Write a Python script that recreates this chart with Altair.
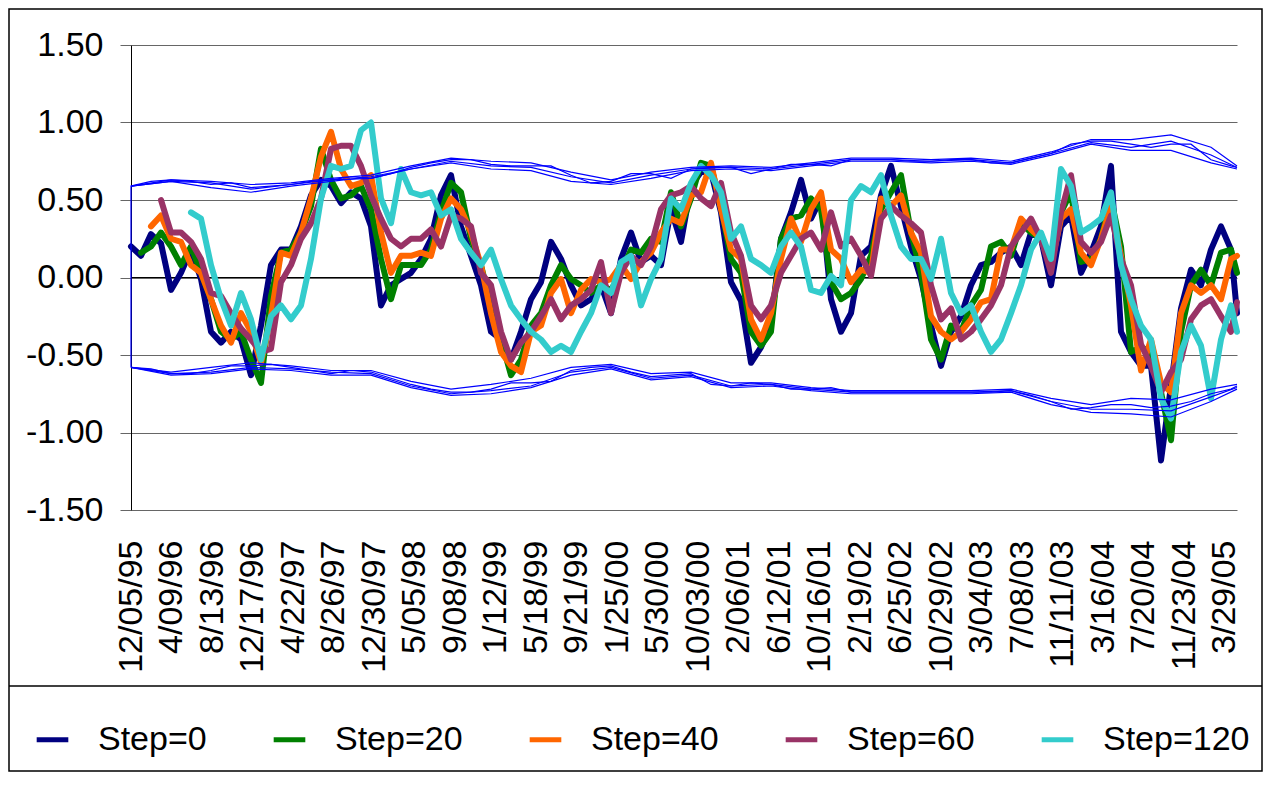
import datetime as dt
import pandas as pd
import altair as alt

SERIES = ["Step=0", "Step=20", "Step=40", "Step=60", "Step=120"]
COLORS = ["#000080", "#008000", "#FF6600", "#993366", "#33CCCC"]

TICK_LABELS = ["12/05/95", "4/09/96", "8/13/96", "12/17/96", "4/22/97", "8/26/97",
               "12/30/97", "5/05/98", "9/08/98", "1/12/99", "5/18/99", "9/21/99",
               "1/25/00", "5/30/00", "10/03/00", "2/06/01", "6/12/01", "10/16/01",
               "2/19/02", "6/25/02", "10/29/02", "3/04/03", "7/08/03", "11/11/03",
               "3/16/04", "7/20/04", "11/23/04", "3/29/05"]
Y_TICKS = [-1.5, -1.0, -0.5, 0.0, 0.5, 1.0, 1.5]

START = dt.datetime(1995, 12, 5)
END = dt.datetime(2005, 5, 6)
N_SAMPLES = 111  # roughly monthly samples, last value is at END

N = None
step0 = [0.20, 0.14, 0.28, 0.22, -0.08, 0.03, 0.18, -0.01, -0.35, -0.42,
         -0.35, -0.40, -0.63, -0.31, 0.08, 0.18, 0.18, 0.33, 0.53, 0.63,
         0.59, 0.48, 0.55, 0.51, 0.33, -0.18, -0.05, -0.01, 0.03, 0.12,
         0.25, 0.53, 0.66, 0.33, 0.14, -0.05, -0.35, -0.40, -0.53, -0.35,
         -0.14, -0.03, 0.23, 0.12, -0.05, -0.18, -0.14, -0.05, -0.23, 0.12,
         0.29, 0.10, 0.14, 0.08, 0.44, 0.23, 0.59, 0.68, 0.68, 0.42,
         -0.03, -0.15, -0.55, -0.45, -0.30, 0.25, 0.42, 0.63, 0.38, 0.51,
         -0.14, -0.35, -0.23, 0.14, 0.20, 0.53, 0.72, 0.46, 0.20, -0.01,
         -0.31, -0.57, -0.35, -0.25, -0.05, 0.08, 0.10, 0.16, 0.20, 0.08,
         0.29, 0.25, -0.05, 0.33, 0.40, 0.03, 0.16, 0.33, 0.72, -0.35,
         -0.48, -0.57, -0.57, -1.18, -0.70, -0.20, 0.05, -0.05, 0.18, 0.33, 0.18,
         -0.23]
step20 = [N, 0.16, 0.20, 0.29, 0.20, 0.08, 0.20, 0.03, -0.14, -0.35,
          -0.40, -0.35, -0.53, -0.68, -0.12, 0.16, 0.18, 0.29, 0.46, 0.83,
          0.63, 0.51, 0.53, 0.59, 0.44, 0.12, -0.14, 0.08, 0.08, 0.08,
          0.18, 0.42, 0.61, 0.55, 0.25, 0.08, -0.18, -0.40, -0.63, -0.53,
          -0.31, -0.23, -0.05, 0.08, -0.01, -0.05, -0.10, -0.05, -0.08, 0.03,
          0.18, 0.16, 0.25, 0.23, 0.55, 0.33, 0.51, 0.74, 0.72, 0.46,
          0.12, 0.03, -0.35, -0.44, -0.35, 0.25, 0.38, 0.40, 0.51, 0.44,
          -0.03, -0.14, -0.10, -0.01, 0.14, 0.44, 0.55, 0.66, 0.29, 0.03,
          -0.40, -0.53, -0.31, -0.35, -0.18, -0.08, 0.20, 0.23, 0.14, 0.35,
          0.29, 0.25, 0.08, 0.42, 0.55, 0.10, 0.12, 0.25, 0.51, 0.20,
          -0.48, -0.45, -0.48, -0.74, -1.05, -0.35, -0.05, 0.05, -0.05, 0.16, 0.18,
          0.03]
step40 = [N, N, 0.33, 0.40, 0.25, 0.23, 0.08, 0.03, -0.14, -0.31,
          -0.42, -0.23, -0.35, -0.55, -0.25, 0.16, 0.14, 0.29, 0.51, 0.78,
          0.94, 0.70, 0.59, 0.61, 0.66, 0.29, 0.03, 0.14, 0.14, 0.16,
          0.14, 0.38, 0.51, 0.44, 0.29, 0.08, -0.23, -0.48, -0.57, -0.61,
          -0.35, -0.31, -0.10, -0.01, -0.23, -0.08, -0.01, -0.03, -0.01, 0.08,
          -0.01, 0.10, 0.16, 0.29, 0.38, 0.35, 0.53, 0.55, 0.74, 0.44,
          0.18, 0.12, -0.27, -0.40, -0.23, 0.12, 0.38, 0.23, 0.44, 0.55,
          0.18, 0.12, -0.03, 0.05, 0.03, 0.51, 0.46, 0.53, 0.29, 0.16,
          -0.25, -0.35, -0.40, -0.35, -0.27, -0.16, -0.14, 0.18, 0.18, 0.38,
          0.31, 0.25, 0.08, 0.38, 0.44, 0.16, 0.08, 0.25, 0.46, 0.14,
          -0.18, -0.60, -0.40, -0.68, -0.74, -0.23, -0.05, -0.10, -0.05, -0.14, 0.12,
          0.14]
step60 = [N, N, N, 0.50, 0.29, 0.29, 0.23, 0.12, -0.10, -0.12,
          -0.23, -0.33, -0.40, -0.48, -0.46, -0.03, 0.08, 0.25, 0.35, 0.51,
          0.83, 0.85, 0.85, 0.72, 0.53, 0.38, 0.25, 0.20, 0.25, 0.25,
          0.31, 0.20, 0.40, 0.38, 0.33, 0.03, -0.05, -0.35, -0.53, -0.42,
          -0.35, -0.25, -0.14, -0.27, -0.18, -0.14, -0.08, 0.10, -0.23, 0.03,
          0.14, 0.08, 0.20, 0.44, 0.53, 0.55, 0.59, 0.51, 0.46, 0.61,
          0.29, 0.14, -0.18, -0.27, -0.18, 0.03, 0.14, 0.25, 0.29, 0.18,
          0.42, 0.20, 0.25, 0.14, 0.01, 0.38, 0.46, 0.40, 0.35, 0.29,
          -0.05, -0.27, -0.20, -0.40, -0.35, -0.27, -0.18, -0.05, 0.20, 0.29,
          0.38, 0.25, 0.03, 0.42, 0.66, 0.23, 0.16, 0.23, 0.40, 0.12,
          -0.05, -0.43, -0.57, -0.74, -0.61, -0.53, -0.27, -0.18, -0.14, -0.25, -0.35,
          -0.16]
step120 = [N, N, N, N, N, N, 0.42, 0.38, 0.08, -0.14,
           -0.31, -0.10, -0.27, -0.53, -0.25, -0.18, -0.27, -0.18, 0.12, 0.51,
           0.72, 0.70, 0.72, 0.95, 1.00, 0.51, 0.35, 0.70, 0.55, 0.53,
           0.55, 0.40, 0.44, 0.25, 0.16, 0.08, 0.18, -0.01, -0.18, -0.27,
           -0.35, -0.40, -0.48, -0.44, -0.48, -0.35, -0.23, -0.05, -0.10, 0.10,
           0.14, -0.18, -0.01, 0.12, 0.51, 0.44, 0.61, 0.72, 0.66, 0.55,
           0.25, 0.33, 0.12, 0.08, 0.03, 0.20, 0.29, 0.20, -0.08, -0.10,
           0.01, -0.05, 0.50, 0.59, 0.55, 0.66, 0.40, 0.20, 0.12, 0.12,
           -0.01, 0.25, -0.10, -0.23, -0.18, -0.35, -0.48, -0.40, -0.23, -0.05,
           0.18, 0.29, 0.12, 0.70, 0.59, 0.29, 0.33, 0.38, 0.55, 0.08,
           -0.14, -0.31, -0.40, -0.78, -0.91, -0.48, -0.31, -0.44, -0.78, -0.40, -0.18,
           -0.35]

# significance bands (every 2nd sample, then every 4th sample for the extra strands)
band_first_low = -0.58
upper_a = [0.59, 0.62, 0.63, 0.62, 0.60, 0.61, 0.58, 0.59, 0.60, 0.62, 0.63, 0.65, 0.64, 0.67,
           0.71, 0.74, 0.76, 0.76, 0.73, 0.72, 0.72, 0.72, 0.66, 0.61, 0.62, 0.67, 0.67, 0.64,
           0.70, 0.71, 0.71, 0.67, 0.70, 0.73, 0.73, 0.72, 0.76, 0.76, 0.76, 0.75, 0.75, 0.76,
           0.76, 0.74, 0.74, 0.77, 0.80, 0.86, 0.88, 0.88, 0.86, 0.84, 0.86, 0.86, 0.76, 0.72, 0.71]
lower_a = [-0.58, -0.59, -0.62, -0.62, -0.60, -0.57, -0.57, -0.56, -0.58, -0.60, -0.62, -0.60,
           -0.61, -0.65, -0.69, -0.72, -0.74, -0.74, -0.72, -0.68, -0.68, -0.67, -0.60, -0.58,
           -0.57, -0.61, -0.64, -0.63, -0.62, -0.69, -0.70, -0.68, -0.69, -0.72, -0.72, -0.71,
           -0.74, -0.74, -0.74, -0.74, -0.74, -0.74, -0.74, -0.74, -0.73, -0.76, -0.80, -0.85,
           -0.84, -0.82, -0.82, -0.84, -0.83, -0.80, -0.75, -0.72, -0.70]
upper_b = [0.59, 0.62, 0.58, 0.55, 0.59, 0.62, 0.65, 0.70, 0.74, 0.70, 0.69, 0.62, 0.60, 0.64, 0.69,
           0.70, 0.69, 0.72, 0.75, 0.75, 0.74, 0.75, 0.73, 0.79, 0.86, 0.82, 0.82, 0.74, 0.70]
upper_c = [0.59, 0.63, 0.62, 0.60, 0.61, 0.64, 0.66, 0.72, 0.77, 0.75, 0.74, 0.68, 0.63, 0.68, 0.71,
           0.72, 0.71, 0.74, 0.77, 0.77, 0.76, 0.77, 0.75, 0.81, 0.89, 0.89, 0.92, 0.84, 0.72]
upper_d = [0.59, 0.62, 0.61, 0.57, 0.60, 0.63, 0.64, 0.70, 0.75, 0.72, 0.71, 0.65, 0.61, 0.66, 0.70,
           0.71, 0.70, 0.73, 0.76, 0.76, 0.75, 0.76, 0.74, 0.80, 0.87, 0.84, 0.88, 0.79, 0.71]
lower_b = [-0.58, -0.61, -0.58, -0.55, -0.57, -0.60, -0.60, -0.67, -0.72, -0.69, -0.65, -0.58, -0.56,
           -0.62, -0.61, -0.68, -0.68, -0.71, -0.73, -0.73, -0.73, -0.73, -0.72, -0.78, -0.82, -0.78,
           -0.79, -0.72, -0.69]
lower_c = [-0.58, -0.63, -0.62, -0.59, -0.60, -0.63, -0.63, -0.71, -0.76, -0.75, -0.71, -0.63, -0.59,
           -0.66, -0.64, -0.71, -0.70, -0.73, -0.75, -0.75, -0.75, -0.75, -0.74, -0.82, -0.87, -0.88,
           -0.90, -0.80, -0.72]
lower_d = [-0.58, -0.62, -0.61, -0.58, -0.59, -0.61, -0.62, -0.70, -0.75, -0.73, -0.70, -0.61, -0.58,
           -0.65, -0.63, -0.70, -0.69, -0.72, -0.74, -0.74, -0.74, -0.74, -0.73, -0.80, -0.85, -0.85,
           -0.86, -0.77, -0.71]

zero_line = [0.0]

# ---------- build tables ----------
span_days = (END - START).days
sample_dates = [START + dt.timedelta(days=i * span_days / 110.6) for i in range(N_SAMPLES)] + [END]

rows = []
for name, vals in zip(SERIES, [step0, step20, step40, step60, step120]):
    for d, v in zip(sample_dates, vals):
        if v is not None:
            rows.append({"date": d, "value": v, "series": name})
df = pd.DataFrame(rows)

band_rows = []
dates2 = sample_dates[0:N_SAMPLES:2] + [END]
dates4 = sample_dates[0:N_SAMPLES - 2:4] + [END]
band_rows.append({"date": START, "value": band_first_low, "band": "U1", "o": -1})
for k, (d, v) in enumerate(zip(dates2, upper_a)):
    band_rows.append({"date": d, "value": v, "band": "U1", "o": k})
for k, (d, v) in enumerate(zip(dates2, lower_a)):
    band_rows.append({"date": d, "value": v, "band": "L1", "o": k})
for nm, arr in [("U2", upper_b), ("U3", upper_c), ("U4", upper_d),
                ("L2", lower_b), ("L3", lower_c), ("L4", lower_d)]:
    for k, (d, v) in enumerate(zip(dates4, arr)):
        band_rows.append({"date": d, "value": v, "band": nm, "o": k})
bdf = pd.DataFrame(band_rows)

tick_dates = [dt.datetime.strptime(s, "%m/%d/%y") for s in TICK_LABELS]
tick_values = [alt.DateTime(year=d.year, month=d.month, date=d.day) for d in tick_dates]

W, H = 1106, 465
PAD = {"left": 123, "top": 37, "right": 26, "bottom": 262}
FONT = "Liberation Sans"

x_enc = alt.X("date:T",
              scale=alt.Scale(domain=[alt.DateTime(year=1995, month=12, date=5),
                                      alt.DateTime(year=2005, month=5, date=6)]),
              axis=alt.Axis(values=tick_values, format="%-m/%d/%y", formatType="time",
                            labelAngle=270, labelAlign="right", labelBaseline="middle",
                            labelFontSize=34, labelFont=FONT, labelColor="black",
                            labelPadding=30, labelOverlap=False, labelBound=False,
                            labelFlush=False, domain=False, ticks=False, grid=False,
                            title=None))
y_enc = alt.Y("value:Q",
              scale=alt.Scale(domain=[-1.5, 1.5], nice=False),
              axis=alt.Axis(values=Y_TICKS,
                            labelExpr="replace(format(datum.value, '.2f'), '\u2212', '-')",
                            labelFontSize=34, labelFont=FONT, labelColor="black",
                            labelPadding=17, tickSize=11, tickColor="#666666",
                            domainColor="black", domainWidth=1, grid=True,
                            gridColor="#666666", gridWidth=1, title=None))

color_enc = alt.Color("series:N",
                      scale=alt.Scale(domain=SERIES, range=COLORS),
                      legend=alt.Legend(orient="none", legendX=-97, legendY=676,
                                        direction="horizontal", title=None,
                                        symbolType="stroke", symbolStrokeWidth=5,
                                        symbolSize=1000, labelFontSize=34, labelFont=FONT,
                                        labelColor="black", labelOffset=27,
                                        columnPadding=56, padding=0))

zero = alt.Chart(pd.DataFrame({"value": zero_line})).mark_rule(
    color="black", strokeWidth=1).encode(y=alt.Y("value:Q"))

layers = [zero]
for name in SERIES:
    layers.append(
        alt.Chart(df[df.series == name]).mark_line(
            strokeWidth=6, strokeJoin="round", strokeCap="round").encode(
            x=x_enc, y=y_enc, color=color_enc, order="date:T"))

bands = alt.Chart(bdf).mark_line(color="#0000FF", strokeWidth=1.2).encode(
    x=x_enc, y=y_enc, detail="band:N", order="o:Q")
layers.append(bands)

deco_df = pd.DataFrame({"k": [0]})
border = alt.Chart(deco_df).mark_rect(fill="transparent", stroke="black", strokeWidth=1.5).encode(
    x=alt.value(-PAD["left"] + 1), x2=alt.value(W + PAD["right"] - 1),
    y=alt.value(-PAD["top"] + 1), y2=alt.value(H + PAD["bottom"] - 1))
sep = alt.Chart(deco_df).mark_rule(color="black", strokeWidth=1.5).encode(
    x=alt.value(-PAD["left"] + 1), x2=alt.value(W + PAD["right"] - 1), y=alt.value(641))
layers += [border, sep]

chart = alt.layer(*layers).properties(
    width=W, height=H, autosize=alt.AutoSizeParams(type="none"), padding=PAD,
    background="white"
).configure_view(strokeWidth=0)

chart.save("out.html", embed_options={"renderer": "svg", "actions": False})
